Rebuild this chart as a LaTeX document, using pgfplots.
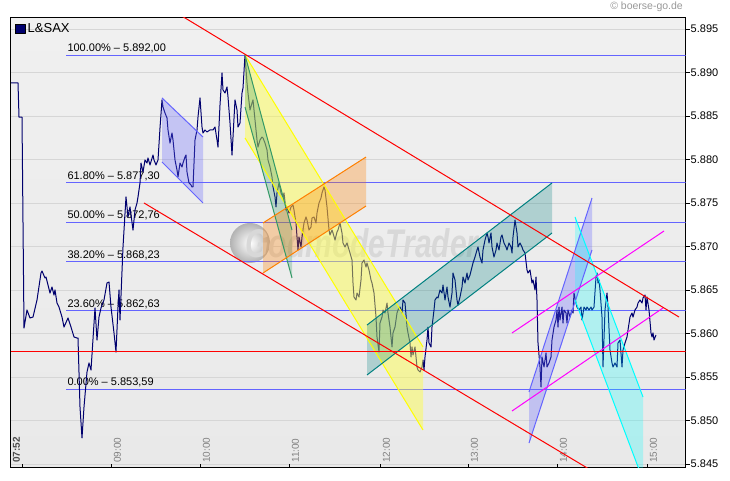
\documentclass[border=0pt]{standalone}
\usepackage{fontspec}
\setmainfont{Liberation Sans}
\usepackage{pgfplots}
\pgfplotsset{compat=1.18}
\definecolor{navy}{RGB}{0,0,110}
\definecolor{fibblue}{RGB}{100,100,255}
\definecolor{gridc}{RGB}{214,214,214}
\definecolor{tealc}{RGB}{0,128,128}
\definecolor{greenc}{RGB}{51,153,102}
\definecolor{orangec}{RGB}{255,128,0}
\definecolor{yelc}{RGB}{255,255,0}
\definecolor{cyanc}{RGB}{0,255,255}
\definecolor{magc}{RGB}{255,0,255}
\definecolor{redc}{RGB}{255,0,0}
\definecolor{wmark}{RGB}{216,216,216}
\begin{document}
\begin{tikzpicture}
\path[use as bounding box, fill=white] (0pt,0pt) rectangle (730pt,481pt);
\begin{axis}[
  at={(10.5pt,13pt)}, anchor=south west,
  scale only axis, width=675pt, height=450pt,
  xmin=10.5, xmax=685.5, ymin=5.84454, ymax=5.89626,
  axis background/.style={top color={rgb,255:red,240;green,240;blue,240}, bottom color={rgb,255:red,233;green,233;blue,233}},
  axis line style={black, line width=1pt},
  scaled y ticks=false,
  ytick={5.845,5.85,5.855,5.86,5.865,5.87,5.875,5.88,5.885,5.89,5.895},
  ytick pos=right, yticklabel pos=right,
  yticklabel style={font=\fontsize{11}{13}\selectfont, inner sep=0pt, xshift=1pt,
     /pgf/number format/fixed, /pgf/number format/fixed zerofill, /pgf/number format/precision=3,
     /pgf/number format/assume math mode=true},
  xtick={111,200,289,380,468,557,647},
  xticklabels={09:00,10:00,11:00,12:00,13:00,14:00,15:00},
  extra x ticks={22}, extra x tick labels={\bfseries 07:52},
  extra x tick style={xticklabel style={text=black!70, yshift=12pt}},
  xtick pos=left,
  tick align=outside,
  major tick length=4pt,
  tick style={black, line width=0.8pt},
  xtick style={yshift=4pt, line width=0.8pt, black},
  xticklabel style={font=\fontsize{10}{12}\selectfont, text=black!50, xshift=6.5pt, yshift=5.7pt, rotate=90, anchor=west},
  ymajorgrids, grid style={gridc, line width=0.7pt},
  legend style={at={(0,1)}, anchor=north west, draw=none, fill=none, inner sep=0pt, outer sep=0pt,
     xshift=4.5pt, yshift=-3pt, font=\fontsize{13}{15}\selectfont, nodes={inner sep=2.5pt}},
  legend image code/.code={\draw[black, line width=0.6pt, fill=navy] (0pt,-4.8pt) rectangle (9.6pt,4.8pt);},
  legend cell align=left,
]
% watermark
\shade[inner color=white, outer color=black!30] (axis cs:250,5.8704) circle[radius=20pt];
\node[text=wmark, font=\bfseries\itshape\fontsize{40}{42}\selectfont] at (axis cs:362,5.8704) {\scalebox{0.75}[1]{GodmodeTrader}};

% Fibonacci lines with labels
\addplot[fibblue, line width=1pt, forget plot] coordinates {(66,5.892) (685.5,5.892)} node[pos=0, anchor=base west, font=\fontsize{11}{13}\selectfont, text=black, inner sep=0pt, xshift=1pt, yshift=3.5pt] {100.00\% -- 5.892,00};
\addplot[fibblue, line width=1pt, forget plot] coordinates {(66,5.8773) (685.5,5.8773)} node[pos=0, anchor=base west, font=\fontsize{11}{13}\selectfont, text=black, inner sep=0pt, xshift=1pt, yshift=3.5pt] {61.80\% -- 5.877,30};
\addplot[fibblue, line width=1pt, forget plot] coordinates {(66,5.87276) (685.5,5.87276)} node[pos=0, anchor=base west, font=\fontsize{11}{13}\selectfont, text=black, inner sep=0pt, xshift=1pt, yshift=3.5pt] {50.00\% -- 5.872,76};
\addplot[fibblue, line width=1pt, forget plot] coordinates {(66,5.86823) (685.5,5.86823)} node[pos=0, anchor=base west, font=\fontsize{11}{13}\selectfont, text=black, inner sep=0pt, xshift=1pt, yshift=3.5pt] {38.20\% -- 5.868,23};
\addplot[fibblue, line width=1pt, forget plot] coordinates {(66,5.86263) (685.5,5.86263)} node[pos=0, anchor=base west, font=\fontsize{11}{13}\selectfont, text=black, inner sep=0pt, xshift=1pt, yshift=3.5pt] {23.60\% -- 5.862,63};
\addplot[fibblue, line width=1pt, forget plot] coordinates {(66,5.85359) (685.5,5.85359)} node[pos=0, anchor=base west, font=\fontsize{11}{13}\selectfont, text=black, inner sep=0pt, xshift=1pt, yshift=3.5pt] {0.00\% -- 5.853,59};

% price line
\addplot[navy, line width=1pt, line join=round] coordinates {
(11,5.88879)(18,5.88879)(19,5.88488)(22,5.88488)(24,5.86063)(27,5.86270)(30,5.86178)(33,5.86189)(37,5.86385)(41,5.86695)(42,5.86718)(45,5.86638)(46,5.86649)(50,5.86465)(52,5.86534)(54,5.86442)(55,5.86500)(57,5.86350)(59,5.86304)(62,5.86189)(64,5.86074)(68,5.86178)(71,5.86074)(74,5.85960)(77,5.85948)(78,5.85948)(80,5.85155)(82,5.84799)(84,5.85155)(87,5.85557)(89,5.85661)(91,5.85580)(95,5.86293)(97,5.85925)(99,5.86189)(101,5.86293)(104,5.86385)(107,5.86580)(109,5.86592)(111,5.86304)(114,5.86006)(116,5.85787)(118,5.86304)(119,5.86500)(120,5.86155)(123,5.86994)(126,5.87569)(128,5.87339)(130,5.87454)(133,5.87189)(135,5.87419)(137,5.87500)(138,5.87569)(140,5.87730)(141,5.87959)(143,5.87856)(145,5.87994)(147,5.87959)(148,5.88017)(150,5.87937)(153,5.88051)(154,5.87994)(156,5.87937)(158,5.87994)(160,5.88362)(162,5.88684)(163,5.88603)(165,5.88534)(167,5.88477)(168,5.88339)(170,5.88189)(172,5.88304)(173,5.88224)(175,5.87994)(177,5.87879)(178,5.87799)(180,5.87959)(182,5.87914)(183,5.87959)(185,5.88028)(186,5.88051)(187,5.87856)(189,5.87730)(191,5.87707)(192,5.87684)(193,5.87684)(195,5.88224)(197,5.88339)(198,5.88488)(200,5.88707)(202,5.88373)(203,5.88304)(205,5.88339)(207,5.88316)(210,5.88339)(213,5.88339)(215,5.88373)(217,5.88224)(218,5.88143)(220,5.88626)(222,5.88994)(223,5.88799)(225,5.88764)(227,5.88833)(228,5.88718)(230,5.88419)(232,5.88051)(233,5.88258)(235,5.88684)(237,5.88569)(238,5.88373)(240,5.88419)(242,5.88764)(243,5.88822)(245,5.89201)
(247,5.88879)(248,5.88764)(250,5.88569)(252,5.88649)(253,5.88684)(255,5.88454)(257,5.88224)(258,5.88143)(260,5.88224)(262,5.88258)(263,5.88247)(265,5.88189)(267,5.88109)(268,5.87994)(270,5.87914)(272,5.87799)(273,5.87684)(275,5.87569)(276,5.87454)(277,5.87615)(279,5.87730)(281,5.87615)(283,5.87569)(284,5.87615)(286,5.87419)(287,5.87454)(289,5.87385)(291,5.87454)(293,5.87477)(294,5.87419)(296,5.87270)(297,5.87109)(298,5.86960)(299,5.87109)(301,5.86994)(302,5.87109)(304,5.87270)(306,5.87339)(307,5.87304)(309,5.87189)(311,5.87224)(312,5.87327)(314,5.87339)(316,5.87270)(317,5.87385)(319,5.87500)(321,5.87557)(322,5.87615)(324,5.87684)(325,5.87649)(327,5.87454)(329,5.87189)(330,5.87132)(332,5.87189)(333,5.87155)(335,5.87074)(337,5.87166)(338,5.87189)(340,5.87270)(342,5.87155)(343,5.87040)(345,5.86994)(347,5.87040)(350,5.86925)(352,5.86845)(353,5.86580)(354,5.86419)(356,5.86385)(357,5.86465)(359,5.86419)(361,5.86615)(362,5.86810)(364,5.86845)(366,5.86764)(367,5.86810)(369,5.86730)(371,5.86615)(372,5.86580)(374,5.86465)(376,5.86189)(377,5.85960)(379,5.85787)(380,5.86120)(382,5.86189)(383,5.86270)(385,5.86235)(387,5.86350)(388,5.86235)(390,5.86074)(392,5.85845)(393,5.86006)(395,5.86074)(397,5.86235)(398,5.86270)(400,5.86304)(402,5.86235)(403,5.86385)(405,5.86350)(407,5.86074)(408,5.86006)(410,5.85891)(411,5.85730)(412,5.85845)(413,5.85753)(415,5.85845)(417,5.85615)(418,5.85580)(420,5.85557)(422,5.85615)(423,5.85695)(424,5.85580)(425,5.85730)(427,5.85925)(428,5.86074)(429,5.85891)(431,5.85845)(432,5.86074)(434,5.86270)(435,5.86385)(437,5.86419)(438,5.86408)(440,5.86500)(442,5.86465)(443,5.86557)(445,5.86385)(447,5.86534)(448,5.86419)(450,5.86304)(452,5.86465)(453,5.86695)(455,5.86615)(457,5.86385)(458,5.86327)(460,5.86419)(462,5.86534)(463,5.86649)(465,5.86580)(467,5.86695)(468,5.86615)(470,5.86672)(472,5.86764)(473,5.86810)(475,5.86879)(477,5.86960)(478,5.86994)(480,5.86879)(482,5.86810)(483,5.86960)(485,5.87074)(487,5.87155)(488,5.87109)(489,5.87040)(491,5.87155)(492,5.86994)(494,5.86879)(496,5.86960)(497,5.87040)(499,5.86960)(501,5.87109)(502,5.87132)(504,5.87040)(506,5.86994)(507,5.86960)(509,5.87040)(511,5.86994)(512,5.86925)(513,5.87109)(515,5.87304)(517,5.87155)(518,5.86994)(520,5.87040)(522,5.86994)(523,5.86960)(525,5.86925)(527,5.86730)(528,5.86695)(530,5.86730)(532,5.86580)(533,5.86615)(535,5.86500)(536,5.86649)(537,5.86385)(538,5.85891)(540,5.85615)(541,5.85385)(542,5.85730)(544,5.85615)(546,5.85776)(547,5.85615)(549,5.85661)(551,5.85730)(552,5.85925)(554,5.86074)(556,5.86155)(557,5.86270)(558,5.86074)(559,5.86304)(560,5.86155)(562,5.86304)(563,5.86120)(564,5.86270)(566,5.86235)(567,5.86120)(568,5.86270)(570,5.86189)(572,5.86270)(573,5.86235)(574,5.86465)(576,5.86350)(577,5.86304)(579,5.86270)(581,5.86304)(582,5.86155)(584,5.86304)(586,5.86270)(587,5.86304)(589,5.86270)(591,5.86304)(592,5.86270)(594,5.86304)(596,5.86649)(597,5.86695)(598,5.86580)(599,5.86615)(600,5.86500)(602,5.86189)(603,5.85615)(605,5.86270)(607,5.86465)(608,5.86304)(610,5.85810)(612,5.85661)(613,5.85615)(615,5.85661)(617,5.85615)(618,5.85891)(620,5.85925)(622,5.85615)(623,5.85810)(625,5.85891)(627,5.85960)(628,5.86040)(630,5.86189)(632,5.86235)(633,5.86189)(635,5.86270)(637,5.86304)(638,5.86350)(640,5.86385)(642,5.86350)(643,5.86408)(645,5.86442)(646,5.86270)(647,5.86419)(649,5.86270)(651,5.86006)(652,5.85960)(653,5.86006)(654,5.85925)(656,5.85983)
};
\addlegendentry{L\&SAX}

% channel fills
\addplot[draw=none, fill=fibblue, fill opacity=0.3, forget plot] coordinates {(162,5.88707) (203,5.88258) (203,5.87500) (162,5.87971)} -- cycle;
\addplot[draw=none, fill=yelc!75!white, fill opacity=0.45, forget plot] coordinates {(245,5.89201) (423,5.85845) (423,5.84891) (245,5.88247)} -- cycle;
\addplot[draw=none, fill=greenc, fill opacity=0.28, forget plot] coordinates {(245,5.89201) (292,5.87189) (292,5.86638) (245,5.88603)} -- cycle;
\addplot[draw=none, fill=orangec, fill opacity=0.3, forget plot] coordinates {(263,5.87270) (366,5.88028) (366,5.87465) (263,5.86695)} -- cycle;
\addplot[draw=none, fill=tealc, fill opacity=0.26, forget plot] coordinates {(367,5.86097) (552,5.87730) (552,5.87155) (367,5.85523)} -- cycle;
\addplot[draw=none, fill=fibblue, fill opacity=0.3, forget plot] coordinates {(529,5.85328) (592,5.87557) (592,5.86960) (529,5.84741)} -- cycle;
\addplot[draw=none, fill=cyanc, fill opacity=0.25, forget plot] coordinates {(575,5.87339) (643,5.85270) (643,5.84316) (575,5.86385)} -- cycle;

% channel lines
\addplot[fibblue, line width=1pt, forget plot] coordinates {(162,5.88707) (203,5.88258)};
\addplot[fibblue, line width=1pt, forget plot] coordinates {(162,5.87971) (203,5.87500)};
\addplot[yelc, line width=1pt, forget plot] coordinates {(245,5.89201) (423,5.85845)};
\addplot[yelc, line width=1pt, forget plot] coordinates {(245,5.88247) (423,5.84891)};
\addplot[greenc, line width=1pt, forget plot] coordinates {(245,5.89201) (292,5.87189)};
\addplot[greenc, line width=1pt, forget plot] coordinates {(245,5.88603) (292,5.86638)};
\addplot[orangec, line width=1pt, forget plot] coordinates {(263,5.87270) (366,5.88028)};
\addplot[orangec, line width=1pt, forget plot] coordinates {(263,5.86695) (366,5.87465)};
\addplot[tealc, line width=1pt, forget plot] coordinates {(367,5.86097) (552,5.87730)};
\addplot[tealc, line width=1pt, forget plot] coordinates {(367,5.85523) (552,5.87155)};
\addplot[fibblue, line width=1pt, forget plot] coordinates {(529,5.85328) (592,5.87557)};
\addplot[fibblue, line width=1pt, forget plot] coordinates {(529,5.84741) (592,5.86960)};
\addplot[cyanc, line width=1pt, forget plot] coordinates {(575,5.87339) (643,5.85270)};
\addplot[cyanc, line width=1pt, forget plot] coordinates {(575,5.86385) (643,5.84316)};
\addplot[magc, line width=1pt, forget plot] coordinates {(512,5.86006) (664,5.87178)};
\addplot[magc, line width=1pt, forget plot] coordinates {(512,5.85109) (663,5.86293)};

% red lines
\addplot[redc, line width=1pt, forget plot] coordinates {(170,5.89731) (679,5.86189)};
\addplot[redc, line width=1pt, forget plot] coordinates {(144,5.87500) (589,5.84442)};
\addplot[redc, line width=1.1pt, forget plot] coordinates {(10.5,5.85793) (685.5,5.85793)};
\end{axis}
\node[anchor=east, text=black!40, font=\fontsize{10.5}{12}\selectfont, inner sep=0pt] at (683pt,474pt) {© boerse-go.de};
\end{tikzpicture}
\end{document}
